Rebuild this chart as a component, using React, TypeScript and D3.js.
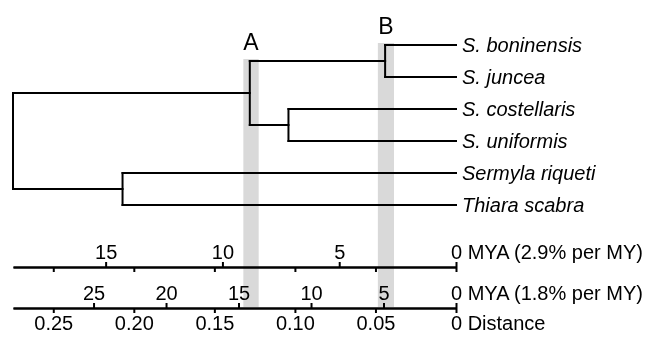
import React from "react";
import * as d3 from "d3";

// taxa in top-to-bottom order
const taxa = ["S. boninensis", "S. juncea", "S. costellaris", "S. uniformis", "Sermyla riqueti", "Thiara scabra"];

// tree topology (parent of each node) and node depth as distance
const treeNodes = ["root", "A", "D", "B", "C", ...taxa];
const treeParents = ["", "root", "root", "A", "A", "B", "B", "C", "C", "D", "D"];
const nodeDistance = [0.275, 0.128, 0.207, 0.044, 0.104, 0, 0, 0, 0, 0, 0];

// grey bars marking the calibration nodes
const bandLabels = ["A", "B"];
const bandNodes = ["A", "B"];
const bandMin = [0.1225, 0.0385];
const bandMax = [0.132, 0.0485];

// axes
const distanceTicks = [0, 0.05, 0.1, 0.15, 0.2, 0.25];
const myaTicks29 = [0, 5, 10, 15];
const myaTicks18 = [0, 5, 10, 15, 20, 25];
const rates = [0.029, 0.018];
const rateLabels = ["0 MYA (2.9% per MY)", "0 MYA (1.8% per MY)"];

export default function App() {
    const ref = React.useRef<HTMLDivElement>(null);

    React.useEffect(() => {
        d3.select(ref.current).select("#treeSvg").remove();
        drawChart();
    }, []);

    function drawChart() {
        const width = 651;
        const height = 337;
        const svg = d3
            .select(ref.current)
            .append("svg")
            .attr("id", "treeSvg")
            .attr("width", width)
            .attr("height", height)
            .style("font-family", "'Liberation Sans', Arial, sans-serif");

        var x = d3.scaleLinear().domain([0.275, 0]).range([13, 456]);
        var yLeaf = d3.scalePoint().domain(taxa).range([45, 205]);
        var axisY = [267, 308];

        const table = treeNodes.map((id, i) => ({ id, parent: treeParents[i], dist: nodeDistance[i] }));
        const root = d3
            .stratify<any>()
            .id((d) => d.id)
            .parentId((d) => (d.parent === "" ? null : d.parent))(table);

        const ys: Record<string, number> = {};
        root.eachAfter((n: any) => {
            if (!n.children) ys[n.id] = yLeaf(n.id) as number;
            else ys[n.id] = (ys[n.children[0].id] + ys[n.children[n.children.length - 1].id]) / 2;
        });

        // bands
        const bands = svg.append("g");
        bandLabels.forEach((lab, i) => {
            const n: any = root.find((d) => d.id === bandNodes[i]);
            const top = ys[n.children[0].id] - 2;
            bands
                .append("rect")
                .attr("x", x(bandMax[i]))
                .attr("width", x(bandMin[i]) - x(bandMax[i]))
                .attr("y", top)
                .attr("height", axisY[1] - 1 - top)
                .attr("fill", "#d9d9d9");
            svg.append("text")
                .attr("x", (x(bandMin[i]) + x(bandMax[i])) / 2)
                .attr("y", top - 9)
                .attr("text-anchor", "middle")
                .attr("font-size", 23)
                .text(lab);
        });

        // tree branches
        const tree = svg.append("g").attr("stroke", "#000").attr("stroke-width", 2).attr("stroke-linecap", "square").attr("fill", "none");
        root.each((n: any) => {
            if (n.parent) {
                tree.append("line")
                    .attr("x1", x(n.parent.data.dist))
                    .attr("x2", x(n.data.dist))
                    .attr("y1", ys[n.id])
                    .attr("y2", ys[n.id]);
            }
            if (n.children) {
                tree.append("line")
                    .attr("x1", x(n.data.dist))
                    .attr("x2", x(n.data.dist))
                    .attr("y1", ys[n.children[0].id])
                    .attr("y2", ys[n.children[n.children.length - 1].id]);
            }
        });

        // taxon labels
        svg.selectAll("text.taxon")
            .data(root.leaves())
            .enter()
            .append("text")
            .attr("class", "taxon")
            .attr("x", x(0) + 6)
            .attr("y", (d: any) => ys[d.id])
            .attr("dy", "0.36em")
            .attr("font-size", 20)
            .attr("font-style", "italic")
            .text((d: any) => d.id);

        // axes
        const myaTicks = [myaTicks29, myaTicks18];
        rates.forEach((rate, i) => {
            const maxAge = 0.275 / (rate / 2);
            const m = d3.scaleLinear().domain([maxAge, 0]).range([13, 456]);
            const gTop = svg
                .append("g")
                .attr("transform", `translate(0,${axisY[i]})`)
                .call(
                    d3.axisTop(m)
                        .tickValues(myaTicks[i])
                        .tickSize(5)
                        .tickSizeOuter(0)
                        .tickPadding(3)
                        .tickFormat((d) => (+d === 0 ? rateLabels[i] : String(d)))
                );
            const gBot = svg
                .append("g")
                .attr("transform", `translate(0,${axisY[i]})`)
                .call(
                    d3.axisBottom(x)
                        .tickValues(distanceTicks)
                        .tickSize(5)
                        .tickSizeOuter(0)
                        .tickPadding(3)
                        .tickFormat((d) => (i === 0 ? "" : +d === 0 ? "0 Distance" : d3.format(".2f")(+d)))
                );
            [gTop, gBot].forEach((g) => {
                g.select(".domain").attr("stroke-width", 2);
                g.selectAll(".tick line").attr("stroke-width", 2);
                g.selectAll("text").attr("font-size", 20).attr("font-family", "'Liberation Sans', Arial, sans-serif").attr("fill", "#000");
                g.selectAll(".tick")
                    .filter((d: any) => +d === 0)
                    .select("text")
                    .attr("text-anchor", "start")
                    .attr("dx", -5.5);
            });
        });
    }

    return <div ref={ref} style={{ position: "fixed", left: 0, top: 0 }} />;
}
